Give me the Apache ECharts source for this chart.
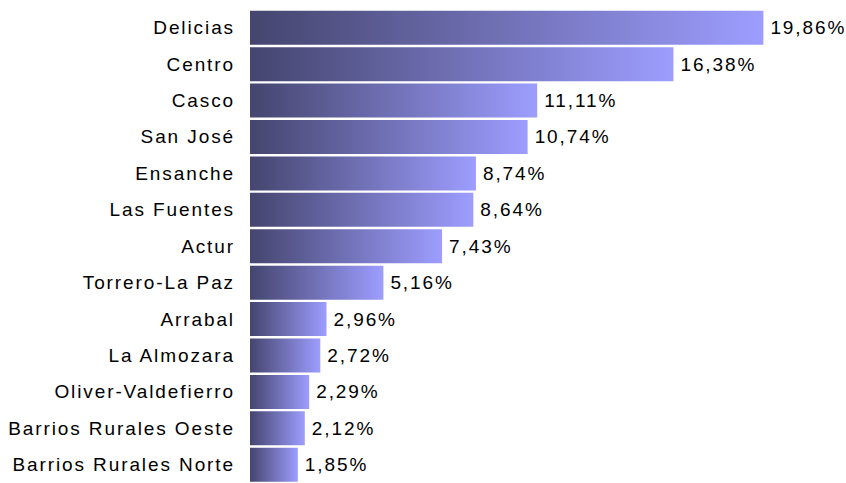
<!DOCTYPE html>
<html>
<head>
<meta charset="utf-8">
<script src="https://cdn.jsdelivr.net/npm/echarts@6/dist/echarts.min.js"></script>
<style>
html,body{margin:0;padding:0;background:#fff;}
#chart{width:846px;height:483px;}
#chart text{letter-spacing:1.9px;}
</style>
</head>
<body>
<div id="chart"></div>
<script>
// barrios y porcentajes
var barrios = ['Delicias','Centro','Casco','San José','Ensanche','Las Fuentes','Actur','Torrero-La Paz','Arrabal','La Almozara','Oliver-Valdefierro','Barrios Rurales Oeste','Barrios Rurales Norte'];
var porcentajes = [19.86,16.38,11.11,10.74,8.74,8.64,7.43,5.16,2.96,2.72,2.29,2.12,1.85];

var chart = echarts.init(document.getElementById('chart'), null, {renderer: 'svg'});
var option = {
    animation: false,
    textStyle: {fontFamily: 'Liberation Sans, Arial, sans-serif'},
    grid: {
        left: 250,
        top: 9.5,
        width: 517,
        height: 481
    },
    xAxis: {
        type: 'value',
        min: 0,
        max: 20,
        show: false
    },
    yAxis: {
        type: 'category',
        inverse: true,
        data: barrios,
        axisLine: {show: false},
        axisTick: {show: false},
        axisLabel: {
            color: '#000',
            fontSize: 19,
            margin: 15
        }
    },
    series: [
        {
            type: 'bar',
            data: porcentajes,
            barWidth: 34,
            itemStyle: {
                color: new echarts.graphic.LinearGradient(0, 0, 1, 0, [
                    {offset: 0, color: '#45456f'},
                    {offset: 1, color: '#9d9dff'}
                ])
            },
            label: {
                show: true,
                position: 'right',
                distance: 7,
                color: '#000',
                fontSize: 19,
                formatter: function (p) {
                    return p.value.toFixed(2).replace('.', ',') + '%';
                }
            }
        }
    ]
};
chart.setOption(option);
</script>
</body>
</html>
